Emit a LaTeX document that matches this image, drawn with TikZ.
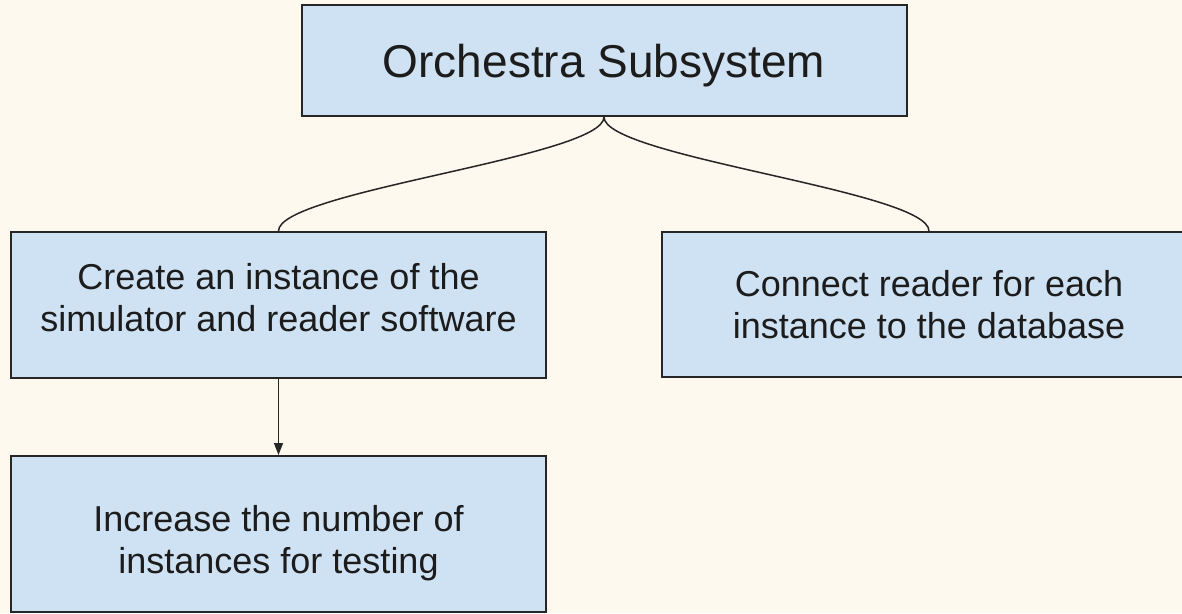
\documentclass[tikz,border=0pt]{standalone}
\usepackage{fontspec}
\setmainfont{Liberation Sans}
\usetikzlibrary{arrows.meta}
\definecolor{bgc}{HTML}{FEF9EF}
\definecolor{boxfill}{HTML}{CFE2F3}
\definecolor{edge}{HTML}{262626}
\definecolor{ink}{HTML}{1C1C1C}
\begin{document}
\begin{tikzpicture}[x=1pt,y=-1pt,
  box/.style={draw=edge, line width=2pt, fill=boxfill, text=ink, align=center, inner sep=0pt},
  small/.style={font=\fontsize{36}{42}\selectfont, text=ink, align=center, inner sep=0pt},
  link/.style={draw=edge, line width=1.5pt}]
\useasboundingbox (0,0) rectangle (1182,613);
\fill[bgc] (0,0) rectangle (1182,613);
\clip (0,0) rectangle (1182,613);
\node[box, minimum width=605, minimum height=111, text depth=0pt, font=\fontsize{46}{55}\selectfont] (top) at (604,60.5) {Orchestra Subsystem};
\node[box, minimum width=535, minimum height=146] (create) at (278.5,305) {};
\node[small] (createtext) at (278.5,297.5) {Create an instance of the\\simulator and reader software};
\node[box, small, minimum width=534, minimum height=145] (connect) at (929,304.5) {Connect reader for each\\instance to the database};
\node[box, minimum width=535, minimum height=156] (inc) at (278.5,534) {};
\node[small] (inctext) at (278.5,543) {Increase the number of\\instances for testing};
\draw[link] (top.south) .. controls +(0,40) and +(0,-40) .. (create.north);
\draw[link] (top.south) .. controls +(0,40) and +(0,-40) .. (connect.north);
\draw[link, line width=1.3pt, -{Triangle[length=12pt,width=9pt]}] (create.south) -- (inc.north);
\end{tikzpicture}
\end{document}
